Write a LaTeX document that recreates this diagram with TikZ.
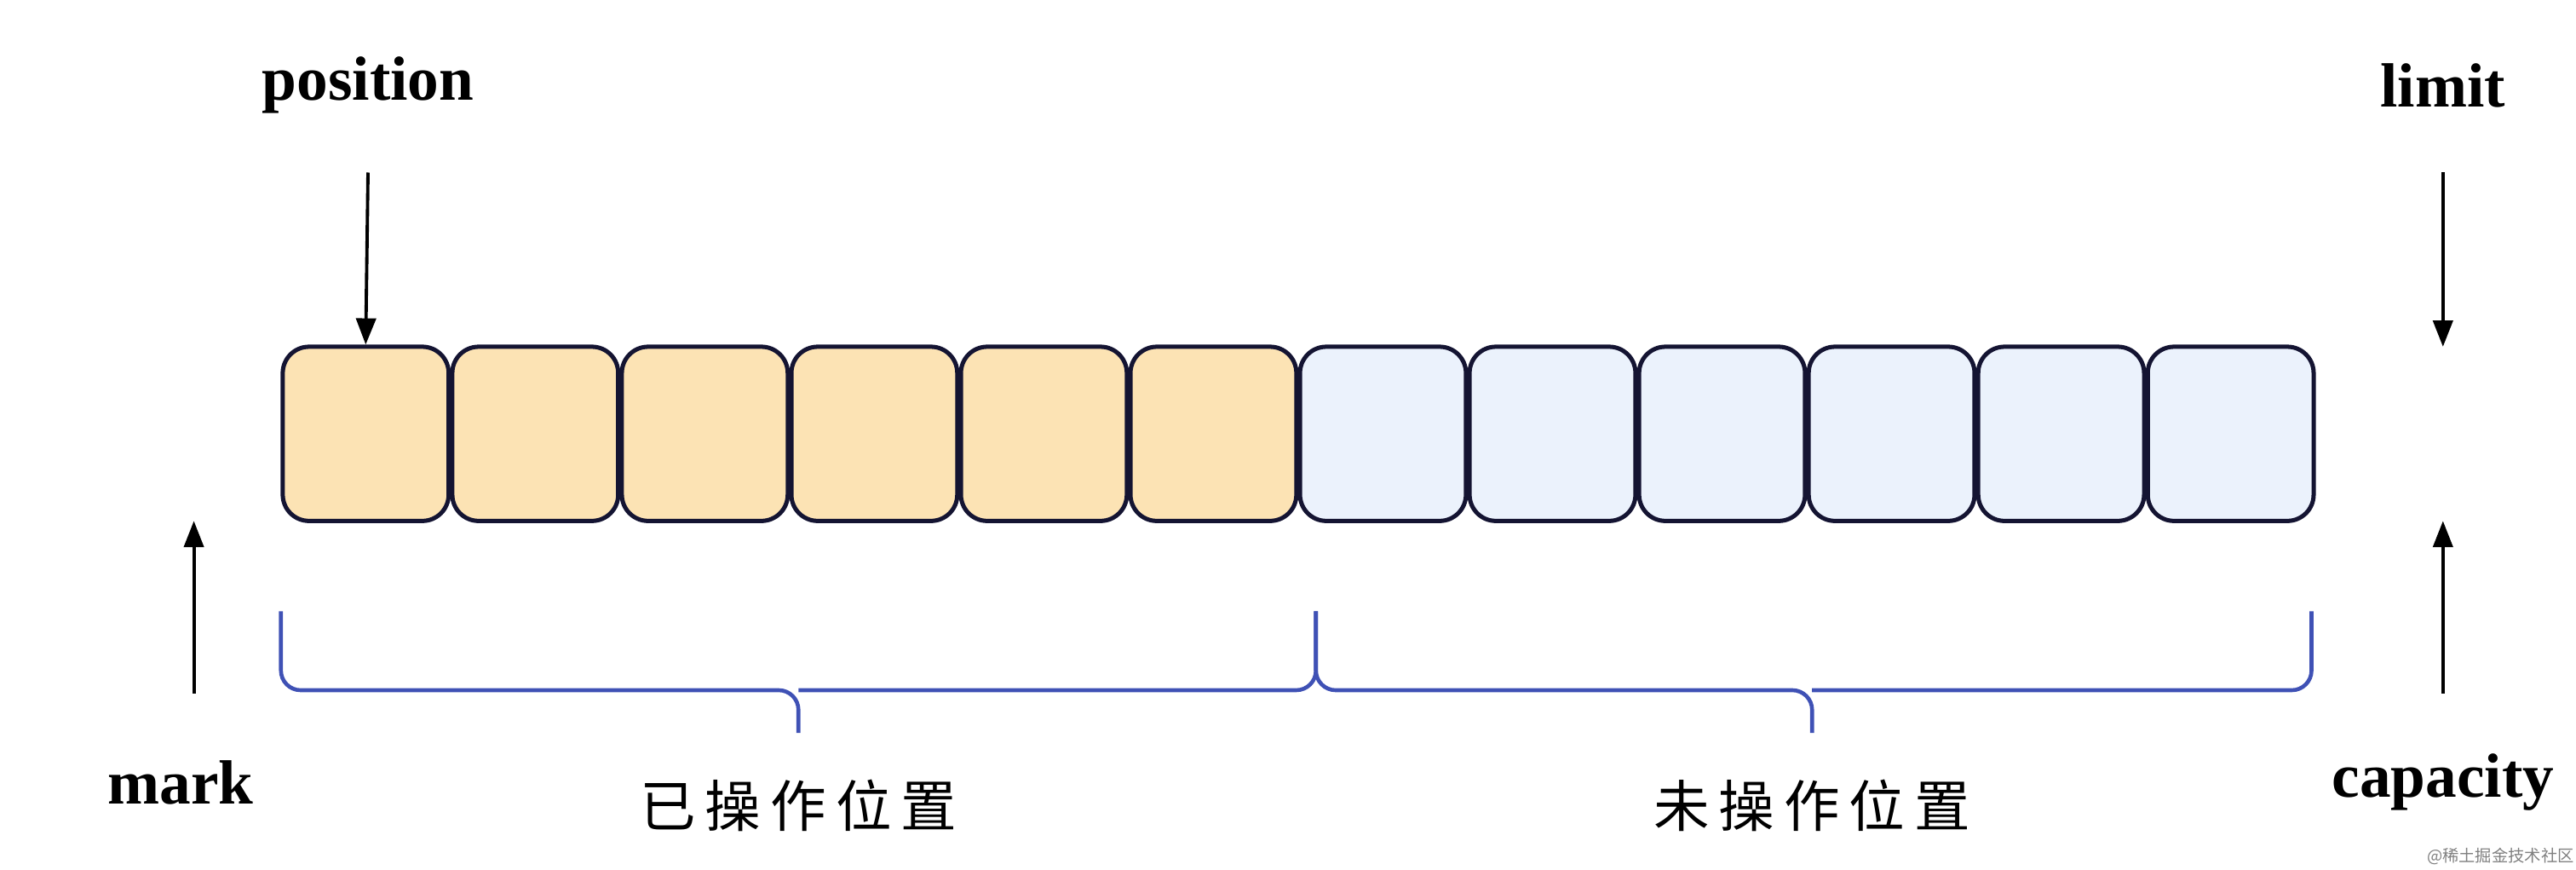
\documentclass[tikz,border=0pt]{standalone}
\usepackage{fontspec}
\setmainfont{Liberation Serif}
\newfontfamily\cjk{Noto Sans CJK SC}
\usetikzlibrary{arrows.meta}
\definecolor{orangef}{HTML}{FCE3B4}
\definecolor{bluef}{HTML}{EBF2FC}
\definecolor{edge}{HTML}{141432}
\definecolor{brace}{HTML}{3F51B5}
\begin{document}
\begin{tikzpicture}[x=0.5pt,y=-0.5pt,
  cell/.style={draw=edge,line width=1.3pt,rounded corners=8pt,minimum width=50.5pt,minimum height=53pt,inner sep=0pt},
  lbl/.style={font=\bfseries\fontsize{19}{22}\selectfont},
  arr/.style={-{Triangle[length=8pt,width=6pt]},line width=1pt,black},
  br/.style={draw=brace,line width=1.2pt,rounded corners=6pt},
  cn/.style={font=\cjk\fontsize{17}{20}\selectfont}]
\useasboundingbox (0,0) rectangle (1568,529);
\foreach \i in {1,...,12}{
  \pgfmathsetmacro\cx{171+103.2*(\i-0.5)}
  \ifnum\i<7 \def\fc{orangef}\else\def\fc{bluef}\fi
  \node[cell,fill=\fc] (b\i) at (\cx,264) {};
}
\node[lbl] (pos) at (224,52) {position};
\node[lbl] (lim) at (1487,52) {limit};
\node[lbl] (mark) at (110,476) {mark};
\node[lbl] (cap) at (1487,476) {capacity};
\coordinate (pt) at (224,105);
\coordinate (lt) at (1487,105);
\coordinate (lb) at (1487,211);
\coordinate (mt) at (118,422);
\coordinate (mb) at (118,317);
\coordinate (ct) at (1487,422);
\coordinate (cb) at (1487,317);
\draw[arr] (pt) -- (b1.north);
\draw[arr] (lt) -- (lb);
\draw[arr] (mt) -- (mb);
\draw[arr] (ct) -- (cb);
\draw[br] (171,372) |- (486,420) -- (486,446);
\draw[br] (486,420) -| (801,372);
\draw[br] (801,372) |- (1103,420) -- (1103,446);
\draw[br] (1103,420) -| (1407,372);
\node[cn] (t1) at (486,490) {已\,操\,作\,位\,置};
\node[cn] (t2) at (1103,490) {未\,操\,作\,位\,置};
\node[font=\cjk\fontsize{5}{6}\selectfont,text=gray] (wm) at (1522,521) {@稀土掘金技术社区};
\end{tikzpicture}
\end{document}
